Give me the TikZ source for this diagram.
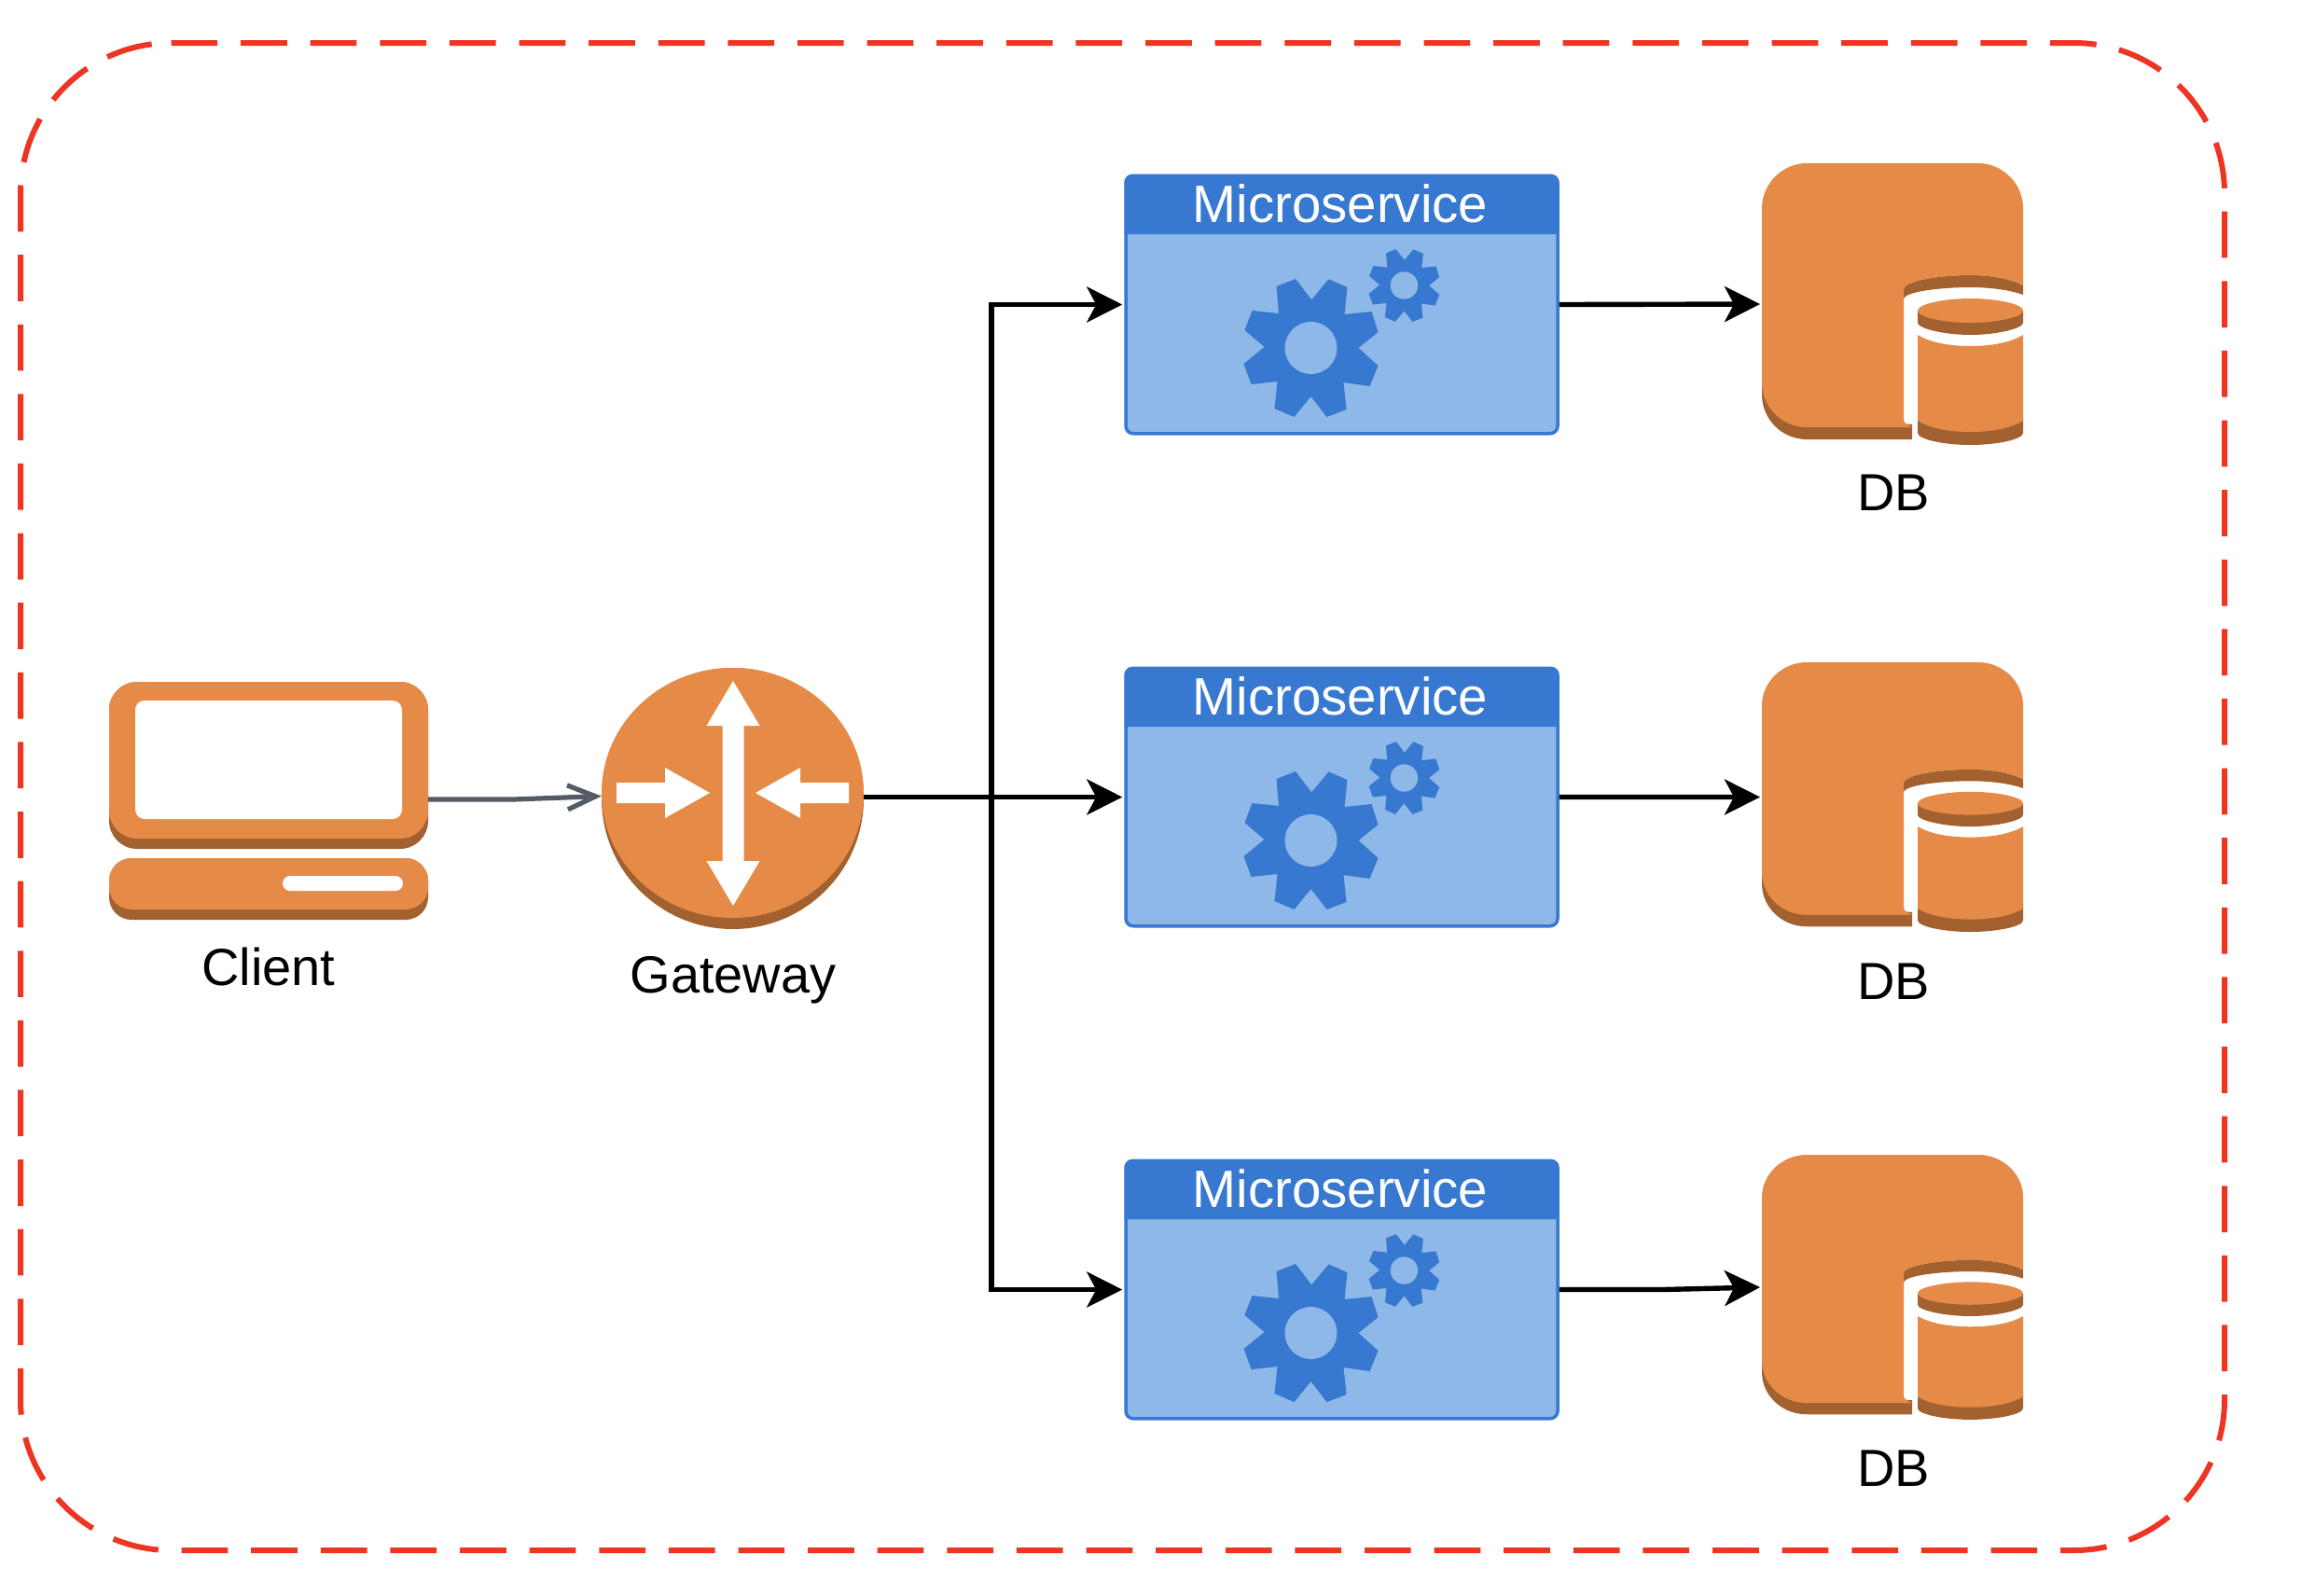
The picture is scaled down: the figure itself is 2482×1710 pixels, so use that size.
\documentclass[tikz,border=0pt]{standalone}
\usepackage{fontspec}
\setmainfont{Liberation Sans}
\usetikzlibrary{arrows.meta}
\definecolor{awsorange}{HTML}{E68A48}
\definecolor{awsbrown}{HTML}{A2612F}
\definecolor{msdark}{HTML}{3778D0}
\definecolor{mslight}{HTML}{8DB8E7}
\definecolor{redline}{HTML}{EE3524}
\definecolor{grayline}{HTML}{545B64}
\tikzset{
  anchorbox/.style={inner sep=0pt,outer sep=0pt,minimum width=#1},
  lbl/.style={anchor=base,inner sep=0pt,font=\fontsize{28}{32}\selectfont},
  mslbl/.style={anchor=base,inner sep=0pt,text=white,font=\fontsize{28.2}{32}\selectfont},
  msbox/.style={draw=msdark,fill=mslight,line width=1.75pt,rounded corners=4pt,inner sep=0pt,outer sep=0.875pt,minimum width=231.5pt,minimum height=138.25pt},
  conn/.style={line width=2.7pt,draw=black,shorten >=1pt,-{Stealth[length=19pt,width=19pt,inset=5pt]}},
  border/.style={draw=redline,line width=3pt,dash pattern=on 24.87pt off 12.435pt},
}
\newcommand{\gearshape}[4]{%
  \begin{scope}[shift={(#1,#2)},scale=#3]
    \fill[msdark] (0.7,-51.7)--(19,-73.7)--(39,-65)--(36,-36)--(65,-39)--(72,-17)--(51,0)--(72,19)--(63,41)--(35,37)--(38,66)--(17,74)--(0,52)--(-18,74)--(-39,65)--(-36,36)--(-64,39)--(-72,17)--(-50,-1)--(-71,-19)--(-63,-40)--(-34.5,-37)--(-37,-66)--(-16.5,-74)--cycle;
    \fill[mslight] (0,0) circle[radius=#4];
  \end{scope}}
\begin{document}
\begin{tikzpicture}[x=0.5pt,y=-0.5pt]
\useasboundingbox (0,0) rectangle (2482,1710);
% dashed boundary
\draw[border] (183.5,46) -- (2223.5,46) .. controls (2312.7,46) and (2385,118.3) .. (2385,207.5) -- (2385,1500.5) .. controls (2385,1589.7) and (2312.7,1662) .. (2223.5,1662) -- (183.5,1662) .. controls (94.3,1662) and (22,1589.7) .. (22,1500.5) -- (22,207.5) .. controls (22,118.3) and (94.3,46) .. (183.5,46);
% client
\node[anchorbox=171pt,minimum height=127.5pt] (client) at (288,857) {};
\fill[awsbrown,rounded corners=15pt] (117,731) rectangle (459,910);
\fill[awsorange,rounded corners=15pt] (117,731) rectangle (459,899);
\fill[white,rounded corners=5pt] (145,751) rectangle (431,878);
\fill[awsbrown,rounded corners=12pt] (117,920) rectangle (459,986);
\fill[awsorange,rounded corners=12pt] (117,920) rectangle (459,975);
\fill[white,rounded corners=4pt] (303,939) rectangle (432,955);
\node[lbl] (clientlbl) at (288,1056) {Client};
% gateway
\node[anchorbox=140.5pt,minimum height=140pt] (gw) at (785.5,854.5) {};
\fill[awsbrown] (785.5,856) ellipse[x radius=70.25pt,y radius=70pt];
\fill[awsorange] (785.5,850) ellipse[x radius=70.25pt,y radius=67pt];
\fill[white] (786,730)--(814.5,778)--(797.5,778)--(797.5,923)--(814.5,923)--(786,971)--(757.5,923)--(774.5,923)--(774.5,778)--(757.5,778)--cycle;
\fill[white] (661,839)--(713,839)--(713,823)--(761,850)--(713,877)--(713,861)--(661,861)--cycle;
\fill[white] (910,839)--(858,839)--(858,823)--(810,850)--(858,877)--(858,861)--(910,861)--cycle;
\node[lbl] (gwlbl) at (786,1064) {Gateway};
% microservices
\foreach \i/\o in {1/0,2/528,3/1056}{
  \node[msbox] (ms\i) at (1438.5,326.5+\o) {};
  \fill[msdark,rounded corners=4pt] (1205.5,187+\o) -- (1671.5,187+\o) -- (1671.5,220+\o) [sharp corners] -- (1671.5,251+\o) -- (1205.5,251+\o) -- (1205.5,220+\o) [rounded corners=4pt] -- cycle;
  \node[mslbl] (mst\i) at (1437,238+\o) {Microservice};
  \gearshape{1405.5}{373+\o}{1}{28}
  \gearshape{1505.4}{306+\o}{0.525}{28}
}
% databases
\foreach \i/\yt/\ys/\lb in {1/175/1/547,2/710/0.957/1071,3/1238/0.94/1593}{
  \node[anchorbox=140pt,minimum height=\ys*151pt] (db\i) at (2029,{\yt+151*\ys}) {};
  \begin{scope}[shift={(1889,\yt)},yscale=\ys]
    \fill[awsbrown] (0,200) -- (0,248) .. controls (0,275) and (22,296) .. (48,296) -- (161,296) -- (161,280) -- (48,270) -- cycle;
    \fill[awsorange] (0,48) .. controls (0,22) and (22,0) .. (48,0) -- (232,0) .. controls (258,0) and (280,22) .. (280,48) -- (280,131)
      .. controls (266,124) and (246,120) .. (223,120) .. controls (196,120) and (152,125) .. (152,136) -- (152,275)
      .. controls (152,279) and (157,281) .. (161,283) -- (48,283) .. controls (22,283) and (0,262) .. (0,235) -- cycle;
    \fill[awsbrown] (152,136) .. controls (152,125) and (196,120) .. (223,120) .. controls (246,120) and (266,124) .. (280,131) -- (280,141)
      .. controls (266,136) and (246,133) .. (223,133) .. controls (196,133) and (152,137) .. (152,146) -- cycle;
    \fill[awsbrown] (167,158) -- (167,171) .. controls (167,177) and (195,184) .. (223.5,184) .. controls (252,184) and (280,177) .. (280,171) -- (280,158) -- cycle;
    \fill[awsorange] (167,158) .. controls (167,151) and (195,145) .. (223.5,145) .. controls (252,145) and (280,151) .. (280,158) .. controls (280,165) and (252,171) .. (223.5,171) .. controls (195,171) and (167,165) .. (167,158) -- cycle;
    \fill[awsbrown] (167,270) -- (167,289) .. controls (167,296) and (195,302) .. (223.5,302) .. controls (252,302) and (280,296) .. (280,289) -- (280,270) -- cycle;
    \fill[awsorange] (167,184) .. controls (180,192) and (200,196) .. (223.5,196) .. controls (247,196) and (267,192) .. (280,184) -- (280,276) .. controls (267,284) and (247,288) .. (223.5,288) .. controls (200,288) and (180,284) .. (167,276) -- cycle;
  \end{scope}
  \node[lbl] (dbl\i) at (2030,\lb) {DB};
}
% connectors
\coordinate (cbend) at (550,857);
\coordinate (jn) at (1063,854.5);
\coordinate (bend3) at (1782,1382.5);
\coordinate (gwin) at ([yshift=0.5pt]gw.west);
\draw[draw=grayline,line width=2.6pt,-{Straight Barb[length=15pt,width=13pt]}] (client.east) -- (cbend) -- (gwin);
\draw[conn] (gw.east) -- (ms2.west);
\draw[conn] (jn) |- (ms1.west);
\draw[conn] (jn) |- (ms3.west);
\draw[conn] (ms1.east) -- (db1.west);
\draw[conn] (ms2.east) -- (db2.west);
\draw[conn] (ms3.east) -- (bend3) -- (db3.west);
\end{tikzpicture}
\end{document}
